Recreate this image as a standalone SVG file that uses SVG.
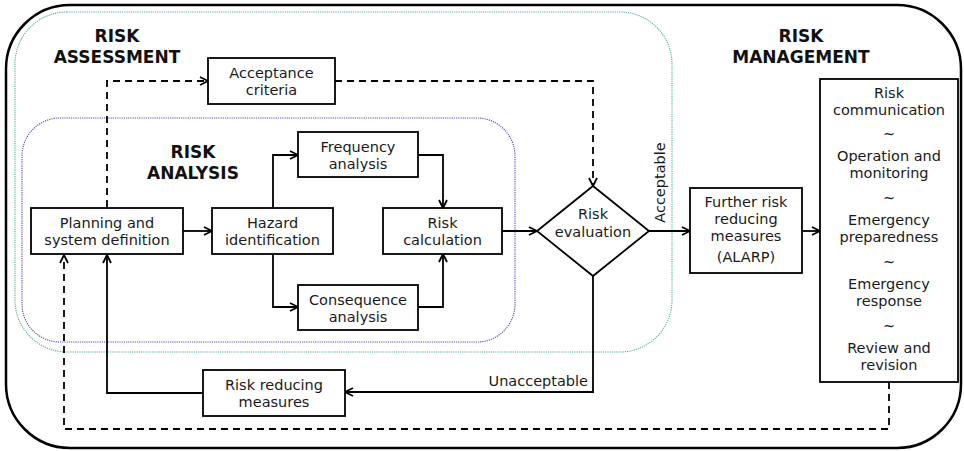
<svg xmlns="http://www.w3.org/2000/svg" width="964" height="451" viewBox="0 0 964 451">
<defs>
<marker id="arr" markerUnits="userSpaceOnUse" viewBox="0 0 10 10" refX="9" refY="5" markerWidth="10" markerHeight="10" orient="auto">
<path d="M1,1 L9,5 L1,9" fill="none" stroke="#000" stroke-width="1.8"/>
</marker>
</defs>
<style>
text{font-family:"DejaVu Sans","Liberation Sans",sans-serif;font-size:14.5px;fill:#1a1a1a;text-anchor:middle}
.title{font-weight:bold;font-size:17px;fill:#111}
.box{fill:#fff;stroke:#000;stroke-width:1.8}
.con{fill:none;stroke:#000;stroke-width:1.8;marker-end:url(#arr)}
.dash{stroke-dasharray:7,5}
</style>
<rect x="6" y="5" width="955" height="443" rx="64" fill="#fff" stroke="#000" stroke-width="2.5"/>
<rect id="assessment" x="15" y="12" width="657" height="340" rx="52" fill="none" stroke="#4fb58a" stroke-width="1.1" stroke-dasharray="1.2,1"/>
<rect id="analysis" x="22" y="118" width="493" height="224" rx="38" fill="none" stroke="#4a4ac0" stroke-width="1.1" stroke-dasharray="1.2,1"/>
<text class="title" x="117" y="42">RISK</text>
<text class="title" x="117" y="63">ASSESSMENT</text>
<text class="title" x="193" y="158">RISK</text>
<text class="title" x="193" y="179">ANALYSIS</text>
<text class="title" x="801" y="42">RISK</text>
<text class="title" x="801" y="63">MANAGEMENT</text>
<g id="connectors">
<path class="con" d="M183,231 H212"/>
<path class="con" d="M273,208 V155 H298"/>
<path class="con" d="M273,254 V307 H298"/>
<path class="con" d="M418,155 H443 V208"/>
<path class="con" d="M418,307 H443 V254"/>
<path class="con" d="M502,231 H537"/>
<path class="con" d="M649,231 H690"/>
<path class="con" d="M802,231 H820"/>
<path class="con" d="M593,276 V392 H345"/>
<path class="con" d="M203,393 H107 V255"/>
<path class="con dash" d="M107,207 V81 H208"/>
<path class="con dash" d="M335,81 H593 V186"/>
<path class="con dash" d="M889,382 V429 H64 V255"/>
<text x="665" y="182.5" transform="rotate(-90 665 182.5)" dy="0">Acceptable</text>
<text x="588" y="386" style="text-anchor:end">Unacceptable</text>
</g>
<g id="acceptance">
<rect class="box" x="208" y="58" width="127" height="46"/>
<text x="271.5" y="78">Acceptance</text>
<text x="271.5" y="95">criteria</text>
</g>
<g id="planning">
<rect class="box" x="31" y="208" width="152" height="46"/>
<text x="107" y="228">Planning and</text>
<text x="107" y="245">system definition</text>
</g>
<g id="hazard">
<rect class="box" x="212" y="208" width="121" height="46"/>
<text x="272.5" y="228">Hazard</text>
<text x="272.5" y="245">identification</text>
</g>
<g id="frequency">
<rect class="box" x="298" y="132" width="120" height="45"/>
<text x="358" y="151.5">Frequency</text>
<text x="358" y="168.5">analysis</text>
</g>
<g id="consequence">
<rect class="box" x="298" y="285" width="120" height="45"/>
<text x="358" y="304.5">Consequence</text>
<text x="358" y="321.5">analysis</text>
</g>
<g id="calculation">
<rect class="box" x="383" y="208" width="119" height="46"/>
<text x="442.5" y="228">Risk</text>
<text x="442.5" y="245">calculation</text>
</g>
<g id="evaluation">
<path class="box" d="M593,186 L649,231 L593,276 L537,231 Z"/>
<text x="593" y="219">Risk</text>
<text x="593" y="237">evaluation</text>
</g>
<g id="further">
<rect class="box" x="690" y="188" width="112" height="85"/>
<text x="746" y="207">Further risk</text>
<text x="746" y="224">reducing</text>
<text x="746" y="241">measures</text>
<text x="746" y="262">(ALARP)</text>
</g>
<g id="reducing">
<rect class="box" x="203" y="370" width="142" height="46"/>
<text x="274" y="390">Risk reducing</text>
<text x="274" y="407">measures</text>
</g>
<g id="management">
<rect class="box" x="820" y="79" width="138" height="303"/>
<text x="889" y="98">Risk</text>
<text x="889" y="115">communication</text>
<text x="889" y="139">~</text>
<text x="889" y="161">Operation and</text>
<text x="889" y="178">monitoring</text>
<text x="889" y="203">~</text>
<text x="889" y="225">Emergency</text>
<text x="889" y="242">preparedness</text>
<text x="889" y="267">~</text>
<text x="889" y="289">Emergency</text>
<text x="889" y="306">response</text>
<text x="889" y="331">~</text>
<text x="889" y="353">Review and</text>
<text x="889" y="370">revision</text>
</g>
</svg>
